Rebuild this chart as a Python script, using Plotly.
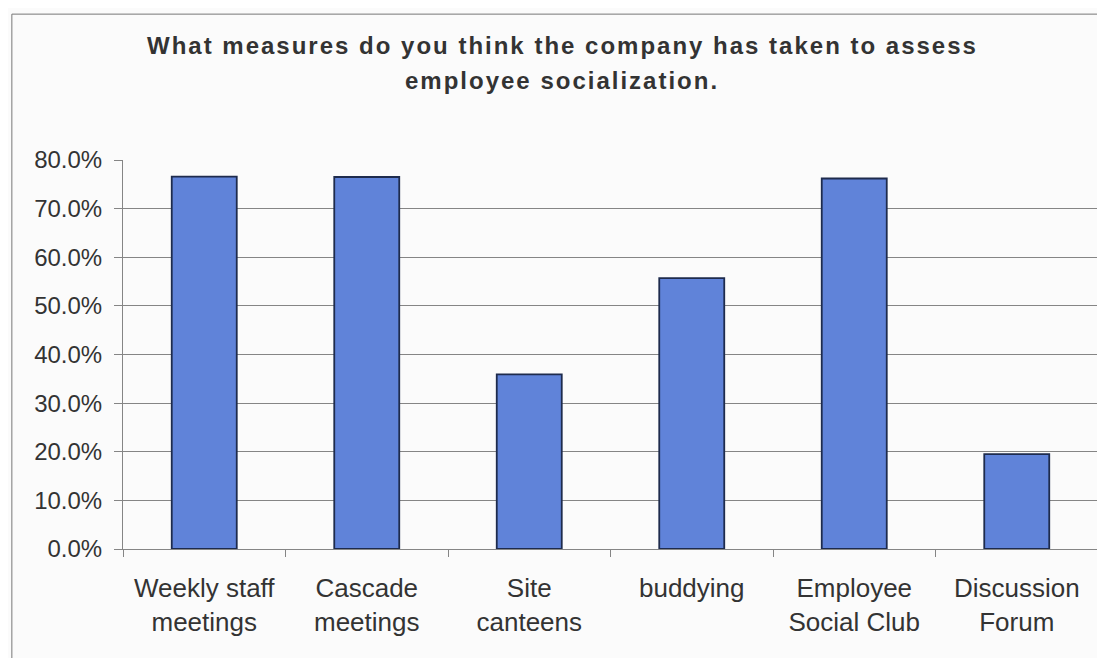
import plotly.graph_objects as go

# survey answers (share of respondents)
categories = ["Weekly staff<br>meetings", "Cascade<br>meetings", "Site<br>canteens",
              "buddying", "Employee<br>Social Club", "Discussion<br>Forum"]
values = [0.766, 0.765, 0.359, 0.557, 0.762, 0.195]
y_ticks = [0.0, 0.1, 0.2, 0.3, 0.4, 0.5, 0.6, 0.7, 0.8]
title_lines = ["What measures do you think the company has taken to assess",
               "employee socialization."]

bg = "#fbfbfb"
txt = "#333333"
grid = "#858585"

fig = go.Figure()
fig.add_trace(go.Bar(
    x=categories,
    y=values,
    marker=dict(color="#6083d9", line=dict(color="#1e2b4d", width=1.8)),
))

# the page body adds 8px, so the figure is a bit smaller than the window
fig.update_layout(
    width=1097, height=650,
    margin=dict(l=115, r=7, t=152, b=109),
    paper_bgcolor=bg, plot_bgcolor=bg,
    bargap=0.6,
    showlegend=False,
    font=dict(family="Liberation Sans, Arial, sans-serif", color=txt),
)

# title in two lines, spaced out like the original
for text, ypos in zip(title_lines, [1.295, 1.205]):
    fig.add_annotation(
        text='<span style="letter-spacing:2px">' + text + '</span>',
        xref="paper", yref="paper", x=0.4503, y=ypos,
        xanchor="center", yanchor="middle", showarrow=False,
        font=dict(size=24, color=txt, weight="bold"),
    )

fig.update_yaxes(
    range=[0, 0.8], tickvals=y_ticks, tickformat=".1%",
    showgrid=True, gridcolor=grid, gridwidth=1,
    showline=True, linecolor=grid, linewidth=1,
    ticks="outside", ticklen=8, tickcolor=grid, ticklabelstandoff=7,
    tickfont=dict(size=24, color=txt), zeroline=False,
)
fig.update_xaxes(
    showline=True, linecolor=grid, linewidth=1,
    ticks="outside", ticklen=7, tickcolor=grid, tickson="boundaries",
    ticklabelstandoff=16,
    tickfont=dict(size=26, color=txt),
)

# thin frame around the chart like the original sheet
fig.add_shape(type="rect", xref="paper", yref="paper",
              x0=-0.114, x1=1.02, y0=-0.3, y1=1.375,
              line=dict(color="#777777", width=1), layer="below")

fig.write_html("out.html")
